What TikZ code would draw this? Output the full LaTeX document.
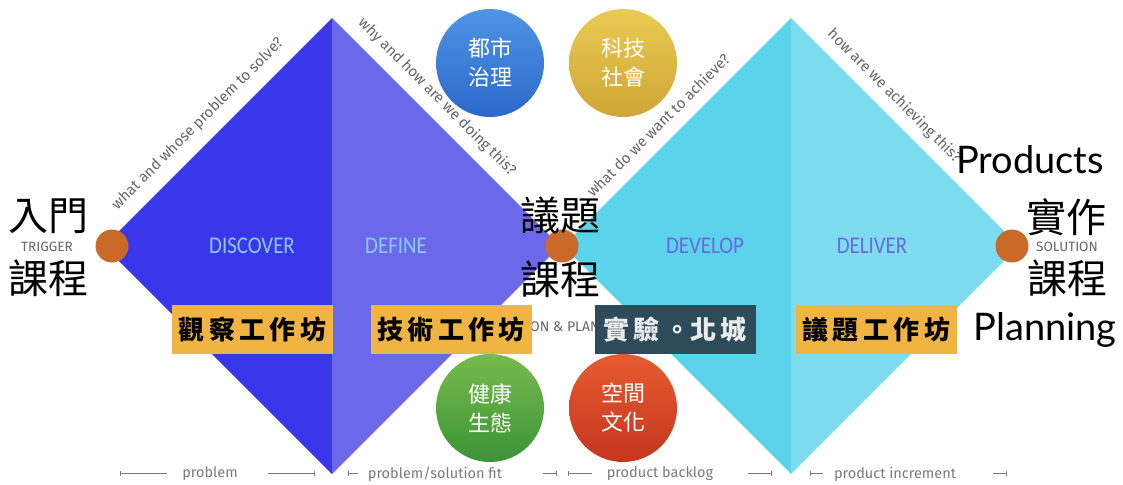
\documentclass[tikz,border=0pt]{standalone}
\usepackage{fontspec}
\setmainfont{Fira Sans}
\newfontfamily\cjk{Noto Sans CJK TC}
\newfontfamily\lat{Lato}
\newfontfamily\carl{Carlito}
\usetikzlibrary{arrows.meta}
\definecolor{blueA}{HTML}{3A36EA}
\definecolor{blueB}{HTML}{6B68EA}
\definecolor{cyanA}{HTML}{5BD3EA}
\definecolor{cyanB}{HTML}{7EDCEF}
\definecolor{orangeC}{HTML}{C96A28}
\definecolor{boxY}{HTML}{F0B443}
\definecolor{boxD}{HTML}{2E4B5A}
\definecolor{grayT}{HTML}{666666}
\definecolor{grayB}{HTML}{7A7A7A}
\definecolor{lblue}{HTML}{88CCF4}
\definecolor{lpurple}{HTML}{6A68E6}
\definecolor{cbT}{HTML}{4E95E4}
\definecolor{cbB}{HTML}{2C68CA}
\definecolor{cyT}{HTML}{EACB52}
\definecolor{cyB}{HTML}{CFA636}
\definecolor{cgT}{HTML}{78BA4C}
\definecolor{cgB}{HTML}{3C9438}
\definecolor{crT}{HTML}{E65C30}
\definecolor{crB}{HTML}{C4361E}
\newcommand\boxsp{\kern4.5pt}
\tikzset{
  dot/.style={circle, fill=orangeC, minimum size=33pt, inner sep=0pt},
  edgelab/.style={font=\fontsize{15}{17}\selectfont, text=grayT, inner sep=0pt},
  phase/.style={font=\carl\fontsize{24}{28}\selectfont, inner sep=0pt},
  bigcjk/.style={font=\cjk\fontsize{40}{44}\selectfont, inner sep=0pt},
  bigtxt/.style={font=\lat\fontsize{38}{42}\selectfont, inner sep=0pt},
  smallcap/.style={font=\fontsize{13.5}{15}\selectfont, text=grayT, inner sep=0pt},
  wbox/.style={fill=boxY, minimum width=161pt, minimum height=49pt, inner sep=0pt,
    font=\cjk\bfseries\fontsize{26}{30}\selectfont},
  topic/.style={circle, minimum size=108pt, inner sep=0pt, text=white, align=center,
    font=\cjk\fontsize{22}{29}\selectfont},
  btm/.style={font=\fontsize{14.5}{16}\selectfont, text=grayB, inner sep=0pt},
  tick/.style={draw=grayB, line width=0.8pt},
}
\begin{document}
\begin{tikzpicture}[x=1pt,y=-1pt]
\useasboundingbox (0,0) rectangle (1123,484);
% diamonds
\fill[blueA] (104,246) -- (332,18) -- (332,474) -- cycle;
\fill[blueB] (332,18) -- (560,246) -- (332,474) -- cycle;
\fill[cyanA] (563,246) -- (791,18) -- (791,474) -- cycle;
\fill[cyanB] (791,18) -- (1019,246) -- (791,474) -- cycle;
% edge labels
\node[edgelab, rotate=45] (q1) at (198,124) {what and whose problem to solve?};
\node[edgelab, rotate=-45] (q2) at (437,97) {why and how are we doing this?};
\node[edgelab, rotate=45] (q3) at (658,125) {what do we want to achieve?};
\node[edgelab, rotate=-45] (q4) at (894,96) {how are we achieving this?};
% phases
\node[phase, text=lblue] (p1) at (252,246) {\scalebox{0.87}[1]{DISCOVER}};
\node[phase, text=lblue] (p2) at (396,246) {\scalebox{0.87}[1]{DEFINE}};
\node[phase, text=lpurple] (p3) at (705,246) {\scalebox{0.87}[1]{DEVELOP}};
\node[phase, text=lpurple] (p4) at (872,246) {\scalebox{0.87}[1]{DELIVER}};
% orange dots
\node[dot] (d1) at (112,246) {};
\node[dot] (d2) at (562,246) {};
\node[dot] (d3) at (1012,246) {};
% side texts
\node[bigcjk] (t1) at (49,216) {入門};
\node[smallcap] (t2) at (47,247) {TRIGGER};
\node[bigcjk] (t3) at (49,278) {課程};
\node[bigcjk] (m1) at (560,215) {議題};
\node[bigcjk] (m2) at (560,279) {課程};
\node[bigtxt] (r0) at (1030,160) {Products};
\node[bigcjk] (r1) at (1066,217) {實作};
\node[smallcap] (r2) at (1067,247) {SOLUTION};
\node[bigcjk] (r3) at (1067,278) {課程};
\node[bigtxt] (r4) at (1045,330) {Planning};
% hidden label
\node[edgelab, font=\fontsize{14}{16}\selectfont] (hid) at (565,327) {ON \& PLAN};
% boxes
\node[wbox] (b1) at (252.5,329.5) {觀\boxsp 察\boxsp 工\boxsp 作\boxsp 坊};
\node[wbox] (b2) at (451,329.5) {技\boxsp 術\boxsp 工\boxsp 作\boxsp 坊};
\node[wbox, fill=boxD, text=white!92!black] (b3) at (675,329.5) {實\boxsp 驗\boxsp 。北\boxsp 城};
\node[wbox] (b4) at (876,329.5) {議\boxsp 題\boxsp 工\boxsp 作\boxsp 坊};
% topic circles
\node[topic, top color=cbT, bottom color=cbB] (c1) at (490,63) {都市\\治理};
\node[topic, top color=cyT, bottom color=cyB] (c2) at (623,63) {科技\\社會};
\node[topic, top color=cgT, bottom color=cgB] (c3) at (490,408) {健康\\生態};
\node[topic, top color=crT, bottom color=crB] (c4) at (623,408) {空間\\文化};
% bottom labels
\node[btm] (l1) at (210,474) {problem};
\node[btm] (l2) at (435,474) {problem/solution fit};
\node[btm] (l3) at (660,474) {product backlog};
\node[btm] (l4) at (895,474) {product increment};
\coordinate (a1) at (120,473); \coordinate (a2) at (167,473);
\coordinate (a3) at (268,473); \coordinate (a4) at (315,473);
\coordinate (a5) at (348,473); \coordinate (a6) at (358,473);
\coordinate (a7) at (543,473); \coordinate (a8) at (557,473);
\coordinate (a9) at (568,473); \coordinate (a10) at (592,473);
\coordinate (a11) at (748,473); \coordinate (a12) at (772,473);
\coordinate (a13) at (810,473); \coordinate (a14) at (823,473);
\coordinate (a15) at (993,473); \coordinate (a16) at (1007,473);
\draw[tick, {Bar[width=5pt]}-] (a1) -- (a2);
\draw[tick, -{Bar[width=5pt]}] (a3) -- (a4);
\draw[tick, {Bar[width=5pt]}-] (a5) -- (a6);
\draw[tick, -{Bar[width=5pt]}] (a7) -- (a8);
\draw[tick, {Bar[width=5pt]}-] (a9) -- (a10);
\draw[tick, -{Bar[width=5pt]}] (a11) -- (a12);
\draw[tick, {Bar[width=5pt]}-] (a13) -- (a14);
\draw[tick, -{Bar[width=5pt]}] (a15) -- (a16);
\end{tikzpicture}
\end{document}
